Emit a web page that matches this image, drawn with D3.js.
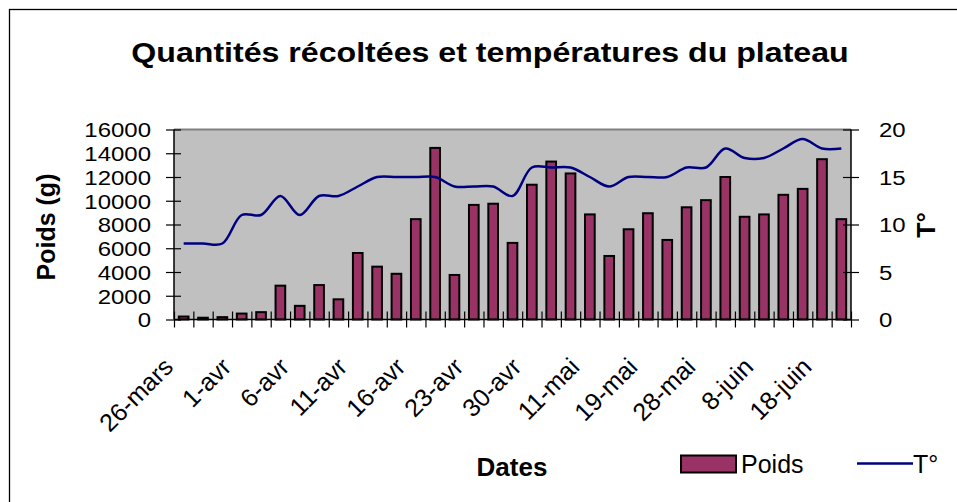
<!DOCTYPE html>
<html>
<head>
<meta charset="utf-8">
<script src="https://cdn.jsdelivr.net/npm/d3@7"></script>
<style>
  body { margin: 0; background: #fff; }
  svg { display: block; font-family: "Liberation Sans", Arial, sans-serif; }
</style>
</head>
<body>
<div id="chart"></div>
<script>
// harvest dates (only every third one is labelled on the axis)
let dates = ["26-mars","28-mars","30-mars","1-avr","3-avr","4-avr","6-avr","8-avr","9-avr",
  "11-avr","13-avr","14-avr","16-avr","18-avr","20-avr","23-avr","25-avr","27-avr","30-avr",
  "3-mai","7-mai","11-mai","14-mai","16-mai","19-mai","22-mai","25-mai","28-mai","1-juin",
  "4-juin","8-juin","11-juin","15-juin","18-juin","22-juin"];
let poids = [250,150,200,500,620,2850,1150,2900,1700,5600,4450,3850,8450,14450,3750,9650,
  9750,6450,11350,13300,12300,8850,5350,7600,8950,6700,9450,10050,12000,8650,8850,10500,
  11000,13500,8450];
let temp = [8,8,8,11,11,13,11,13,13,14,15,15,15,15,14,14,14,13,16,16,16,15,14,15,15,15,16,
  16,18,17,17,18,19,18,18];
let poidsTicks = [0,2000,4000,6000,8000,10000,12000,14000,16000];
let tempTicks = [0,5,10,15,20];

let width = 957, height = 502;
let pLeft = 174, pRight = 851, pTop = 129.5, pBottom = 319.5;

let svg = d3.select('#chart').append('svg')
  .attr('width', width).attr('height', height);

// outer frame
svg.append('rect')
  .attr('x', 9.5).attr('y', 9.5).attr('width', 1200).attr('height', 800)
  .attr('fill', 'none').attr('stroke', '#000').attr('stroke-width', 1.3);

let x = d3.scaleBand().domain(dates).range([pLeft, pRight])
  .paddingInner(0.5).paddingOuter(0.25);
let xEdge = d3.scaleLinear().domain([0, dates.length]).range([pLeft, pRight]);
let yL = d3.scaleLinear().domain([0, 16000]).range([pBottom, pTop]);
let yR = d3.scaleLinear().domain([0, 20]).range([pBottom, pTop]);

// plot area
svg.append('rect')
  .attr('x', pLeft).attr('y', pTop).attr('width', pRight - pLeft).attr('height', pBottom - pTop)
  .attr('fill', '#c0c0c0');
svg.append('line')
  .attr('x1', pLeft).attr('x2', pRight).attr('y1', pTop).attr('y2', pTop)
  .attr('stroke', '#808080').attr('stroke-width', 2);

// bars
svg.append('g').selectAll('rect')
  .data(poids)
  .enter()
  .append('rect')
  .attr('x', (d, i) => x(dates[i]))
  .attr('y', d => yL(d))
  .attr('width', x.bandwidth())
  .attr('height', d => yL(0) - yL(d))
  .attr('fill', '#993366')
  .attr('stroke', '#000')
  .attr('stroke-width', 2);

// temperature line
let line = d3.line()
  .x((d, i) => x(dates[i]) + x.bandwidth() / 2)
  .y(d => yR(d))
  .curve(d3.curveCatmullRom.alpha(0.5));

svg.append('path')
  .datum(temp)
  .attr('d', line)
  .attr('fill', 'none')
  .attr('stroke', '#000080')
  .attr('stroke-width', 2.5);

// axes
let fs = 20.5, sx = 1.17;
let axL = svg.append('g')
  .attr('transform', `translate(${pLeft},0)`)
  .call(d3.axisLeft(yL).tickValues(poidsTicks).tickFormat(d3.format('d')).tickSize(8).tickPadding(15));
let axR = svg.append('g')
  .attr('transform', `translate(${pRight},0)`)
  .call(d3.axisRight(yR).tickValues(tempTicks).tickSize(8).tickPadding(20));
let axB = svg.append('g')
  .attr('transform', `translate(0,${pBottom})`)
  .call(d3.axisBottom(xEdge).tickValues(d3.range(dates.length + 1)).tickSize(8).tickFormat(''));

axL.selectAll('.tick line').attr('x2', -8).attr('x1', 7);
axR.selectAll('.tick line').attr('x1', -8);
axB.selectAll('.tick line').attr('y1', -8);
[axL, axR, axB].forEach(a => {
  a.select('.domain').attr('stroke', '#000').attr('stroke-width', 1.5)
    .attr('d', a === axB ? `M${pLeft},0H${pRight}` : `M0,${pTop}V${pBottom}`);
  a.selectAll('.tick line').attr('stroke', '#000').attr('stroke-width', 1.2);
  a.selectAll('text').attr('font-size', fs).attr('font-family', null).attr('fill', '#000');
});
// the original's digits are a little wider than Arial
axL.selectAll('.tick text').attr('dy', '0.36em')
  .attr('x', -23 / sx).attr('transform', `scale(${sx},1)`);
axR.selectAll('.tick text').attr('dy', '0.36em')
  .attr('x', 28 / sx).attr('transform', `scale(${sx},1)`);

// rotated date labels, every third date
svg.append('g').selectAll('text')
  .data(dates.filter((d, i) => i % 3 === 0))
  .enter()
  .append('text')
  .attr('transform', d => `translate(${x(d) + x.bandwidth() / 2 - 9},${pBottom + 49}) rotate(-45)`)
  .attr('text-anchor', 'end')
  .attr('font-size', 25)
  .text(d => d);

// titles
svg.append('text')
  .attr('transform', 'translate(490,62) scale(1.19,1)')
  .attr('text-anchor', 'middle')
  .attr('font-size', 27).attr('font-weight', 'bold')
  .text('Quantités récoltées et températures du plateau');

svg.append('text')
  .attr('transform', 'translate(55,227) rotate(-90)')
  .attr('text-anchor', 'middle')
  .attr('font-size', 25).attr('font-weight', 'bold')
  .text('Poids (g)');

svg.append('text')
  .attr('transform', 'translate(935,225) rotate(-90)')
  .attr('text-anchor', 'middle')
  .attr('font-size', 25).attr('font-weight', 'bold')
  .text('T°');

svg.append('text')
  .attr('x', 512).attr('y', 476)
  .attr('text-anchor', 'middle')
  .attr('font-size', 26).attr('font-weight', 'bold')
  .text('Dates');

// legend
let legend = svg.append('g');
legend.append('rect')
  .attr('x', 681).attr('y', 455.5).attr('width', 55).attr('height', 17)
  .attr('fill', '#993366').attr('stroke', '#000').attr('stroke-width', 2);
legend.append('text')
  .attr('x', 741).attr('y', 473).attr('font-size', 25).text('Poids');
legend.append('line')
  .attr('x1', 857).attr('x2', 913).attr('y1', 463.5).attr('y2', 463.5)
  .attr('stroke', '#000080').attr('stroke-width', 2.5);
legend.append('text')
  .attr('x', 913).attr('y', 473).attr('font-size', 25).text('T°');
</script>
</body>
</html>
